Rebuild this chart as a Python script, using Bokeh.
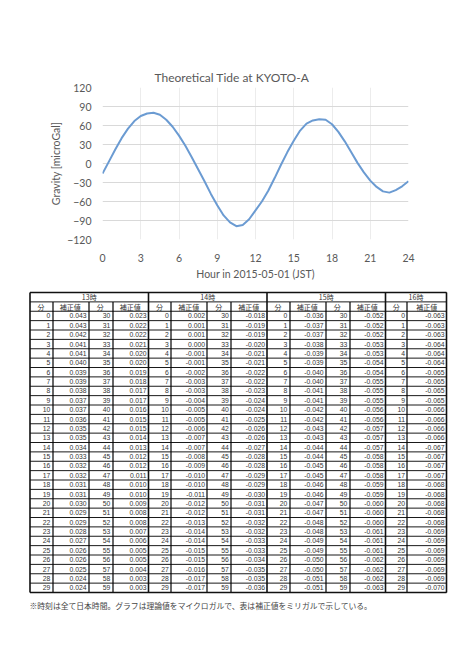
from bokeh.plotting import figure
from bokeh.layouts import column, row
from bokeh.models import Range1d, FixedTicker
from bokeh.core.properties import value
from bokeh.embed import file_html
from bokeh.resources import INLINE

# ---------------- data ----------------
title_text = "Theoretical Tide at KYOTO-A"
x_label = "Hour in 2015-05-01 (JST)"
y_label = "Gravity [microGal]"

hours = [0, 0.5, 1, 1.5, 2, 2.5, 3, 3.5, 4, 4.5, 5, 5.5, 6, 6.5, 7, 7.5, 8, 8.5,
         9, 9.5, 10, 10.5, 11, 11.5, 12, 12.5, 13, 13.5, 14, 14.5, 15, 15.5, 16,
         16.5, 17, 17.5, 18, 18.5, 19, 19.5, 20, 20.5, 21, 21.5, 22, 22.5, 23,
         23.5, 24]
gravity = [-16, 3, 22, 40, 55, 67, 75, 79, 80, 77, 69, 58, 44, 28, 10, -9, -28,
           -48, -66, -82, -93, -99, -97, -88, -74, -60, -43, -23, -2, 18, 36, 52,
           63, 68, 70, 69, 62, 50, 35, 18, 1, -14, -27, -37, -44, -46, -42, -36,
           -28]

x_ticks = [0, 3, 6, 9, 12, 15, 18, 21, 24]
y_ticks = [-120, -90, -60, -30, 0, 30, 60, 90, 120]

table_hours = ["13時", "14時", "15時", "16時"]
col_minute = "分"
col_value = "補正値"

corr_13 = [0.043, 0.043, 0.042, 0.041, 0.041, 0.040, 0.039, 0.039, 0.038, 0.037,
           0.037, 0.036, 0.035, 0.035, 0.034, 0.033, 0.032, 0.032, 0.031, 0.031,
           0.030, 0.029, 0.029, 0.028, 0.027, 0.026, 0.026, 0.025, 0.024, 0.024,
           0.023, 0.022, 0.022, 0.021, 0.020, 0.020, 0.019, 0.018, 0.017, 0.017,
           0.016, 0.015, 0.015, 0.014, 0.013, 0.012, 0.012, 0.011, 0.010, 0.010,
           0.009, 0.008, 0.008, 0.007, 0.006, 0.005, 0.005, 0.004, 0.003, 0.003]
corr_14 = [0.002, 0.001, 0.001, 0.000, -0.001, -0.001, -0.002, -0.003, -0.003, -0.004,
           -0.005, -0.005, -0.006, -0.007, -0.007, -0.008, -0.009, -0.010, -0.010, -0.011,
           -0.012, -0.012, -0.013, -0.014, -0.014, -0.015, -0.015, -0.016, -0.017, -0.017,
           -0.018, -0.019, -0.019, -0.020, -0.021, -0.021, -0.022, -0.022, -0.023, -0.024,
           -0.024, -0.025, -0.026, -0.026, -0.027, -0.028, -0.028, -0.029, -0.029, -0.030,
           -0.031, -0.031, -0.032, -0.032, -0.033, -0.033, -0.034, -0.035, -0.035, -0.036]
corr_15 = [-0.036, -0.037, -0.037, -0.038, -0.039, -0.039, -0.040, -0.040, -0.041, -0.041,
           -0.042, -0.042, -0.043, -0.043, -0.044, -0.044, -0.045, -0.045, -0.046, -0.046,
           -0.047, -0.047, -0.048, -0.048, -0.049, -0.049, -0.050, -0.050, -0.051, -0.051,
           -0.052, -0.052, -0.052, -0.053, -0.053, -0.054, -0.054, -0.055, -0.055, -0.055,
           -0.056, -0.056, -0.057, -0.057, -0.057, -0.058, -0.058, -0.058, -0.059, -0.059,
           -0.060, -0.060, -0.060, -0.061, -0.061, -0.061, -0.062, -0.062, -0.062, -0.063]
corr_16 = [-0.063, -0.063, -0.063, -0.064, -0.064, -0.064, -0.065, -0.065, -0.065, -0.065,
           -0.066, -0.066, -0.066, -0.066, -0.067, -0.067, -0.067, -0.067, -0.068, -0.068,
           -0.068, -0.068, -0.068, -0.069, -0.069, -0.069, -0.069, -0.069, -0.069, -0.070]

footnote = "※時刻は全て日本時間。グラフは理論値をマイクロガルで、表は補正値をミリガルで示している。"

# ---------------- styles ----------------
GREY = "#595959"
CHART_FONT = "Lato"
TABLE_FONT = "Liberation Sans"
JP_FONT = "Noto Sans CJK JP"

# ---------------- chart ----------------
p = figure(width=463, height=290, x_range=Range1d(0, 24), y_range=Range1d(-120, 120),
           output_backend="svg", toolbar_location=None,
           min_border_left=102, min_border_right=55, min_border_top=87, min_border_bottom=51)
p.outline_line_color = None
p.background_fill_color = "white"
p.border_fill_color = "white"

p.title.text = title_text
p.title.align = "left"
p.title.offset = 52
p.title.standoff = 6
p.title.text_font = CHART_FONT
p.title.text_font_size = "12px"
p.title.text_font_style = "normal"
p.title.text_color = GREY

p.line(hours, gravity, line_color="#6b9bd2", line_width=2)

p.xaxis.ticker = FixedTicker(ticks=x_ticks)
p.yaxis.ticker = FixedTicker(ticks=y_ticks)
p.xgrid.ticker = FixedTicker(ticks=x_ticks)
p.ygrid.ticker = FixedTicker(ticks=y_ticks)
p.xgrid.grid_line_color = "#ececec"
p.ygrid.grid_line_color = "#d9d9d9"
for ax in (p.xaxis, p.yaxis):
    ax.axis_line_color = None
    ax.major_tick_line_color = None
    ax.minor_tick_line_color = None
    ax.major_tick_out = 0
    ax.major_tick_in = 0
    ax.minor_tick_out = 0
    ax.minor_tick_in = 0
    ax.major_label_text_font = CHART_FONT
    ax.major_label_text_font_size = "10.5px"
    ax.major_label_text_color = GREY
    ax.axis_label_text_font = CHART_FONT
    ax.axis_label_text_font_size = "10.5px"
    ax.axis_label_text_font_style = "normal"
    ax.axis_label_text_color = GREY
p.xaxis.axis_label = x_label
p.yaxis.axis_label = y_label
p.xaxis.major_label_standoff = 14
p.xaxis.axis_label_standoff = 3
p.yaxis.major_label_standoff = 11
p.yaxis.axis_label_standoff = 2

# ---------------- table ----------------
t = figure(width=463, height=368, x_range=Range1d(0, 463), y_range=Range1d(658, 290),
           output_backend="svg", toolbar_location=None, x_axis_type=None, y_axis_type=None,
           min_border=0, min_border_left=0, min_border_right=0,
           min_border_top=0, min_border_bottom=0)
t.outline_line_color = None
t.grid.visible = False
t.background_fill_color = "white"
t.border_fill_color = "white"

TOP = 292.0
ROW_H = 9.375
N_ROWS = 2 + 30
BLOCK_X = [29.5, 148.0, 266.5, 385.0]
COLS_FULL = [22.2, 36.3, 23.7, 36.3]
COLS_HALF = [21.5, 39.5]
RIGHT = BLOCK_X[3] + sum(COLS_HALF)
BOTTOM = TOP + N_ROWS * ROW_H

blocks = [(table_hours[0], [corr_13[:30], corr_13[30:]]),
          (table_hours[1], [corr_14[:30], corr_14[30:]]),
          (table_hours[2], [corr_15[:30], corr_15[30:]]),
          (table_hours[3], [corr_16])]

# horizontal lines
hy = [TOP + i * ROW_H for i in range(N_ROWS + 1)]
t.segment(x0=[BLOCK_X[0]] * len(hy), y0=hy, x1=[RIGHT] * len(hy), y1=hy,
          line_color="#1a1a1a", line_width=1)

# inner vertical lines (one per column boundary inside each block)
vx = []
for b, (hname, halves) in enumerate(blocks):
    widths = COLS_FULL if len(halves) == 2 else COLS_HALF
    x = BLOCK_X[b]
    for w in widths[:-1]:
        x += w
        vx.append(round(x) + 0.5)
t.segment(x0=vx, y0=[TOP + ROW_H] * len(vx), x1=vx, y1=[BOTTOM] * len(vx),
          line_color="#000000", line_width=1.2)

# block borders
thick_x = list(BLOCK_X) + [RIGHT]
t.segment(x0=thick_x, y0=[TOP] * len(thick_x), x1=thick_x, y1=[BOTTOM] * len(thick_x),
          line_color="#111111", line_width=1.6)
t.segment(x0=[BLOCK_X[0], BLOCK_X[0]], y0=[TOP, BOTTOM], x1=[RIGHT, RIGHT], y1=[TOP, BOTTOM],
          line_color="#111111", line_width=1.6)

# texts
hx, hyy, htxt = [], [], []
cx, cy, ctxt = [], [], []
mx, my, mtxt = [], [], []
vxs, vys, vtxt = [], [], []
for b, (hname, halves) in enumerate(blocks):
    widths = COLS_FULL if len(halves) == 2 else COLS_HALF
    bw = sum(widths)
    hx.append(BLOCK_X[b] + bw / 2); hyy.append(TOP + 0.5 * ROW_H); htxt.append(hname)
    x = BLOCK_X[b]
    for k, vals in enumerate(halves):
        wm, wv = widths[2 * k], widths[2 * k + 1]
        cx += [x + wm / 2, x + wm + wv / 2]
        cy += [TOP + 1.5 * ROW_H] * 2
        ctxt += [col_minute, col_value]
        for r, v in enumerate(vals):
            yy = TOP + (2.5 + r) * ROW_H
            mx.append(x + wm - 2); my.append(yy); mtxt.append(str(r + 30 * k))
            vxs.append(x + wm + wv - 2); vys.append(yy); vtxt.append(f"{v:.3f}")
        x += wm + wv

t.text(x=hx, y=hyy, text=htxt, text_font=value(JP_FONT), text_font_size="7px",
       text_align="center", text_baseline="middle", text_color="#333333")
t.text(x=cx, y=cy, text=ctxt, text_font=value(JP_FONT), text_font_size="7px",
       text_align="center", text_baseline="middle", text_color="#333333")
t.text(x=mx, y=my, text=mtxt, text_font=value(TABLE_FONT), text_font_size="6.8px",
       text_align="right", text_baseline="middle", text_color="#333333")
t.text(x=vxs, y=vys, text=vtxt, text_font=value(TABLE_FONT), text_font_size="6.8px",
       text_align="right", text_baseline="middle", text_color="#333333")

t.text(x=[29], y=[605], text=[footnote], text_font=value(JP_FONT), text_font_size="7.8px",
       text_align="left", text_baseline="middle", text_color="#444444")

layout = column(row(p), row(t), spacing=0)
open("out.html", "w").write(file_html(layout, INLINE))
